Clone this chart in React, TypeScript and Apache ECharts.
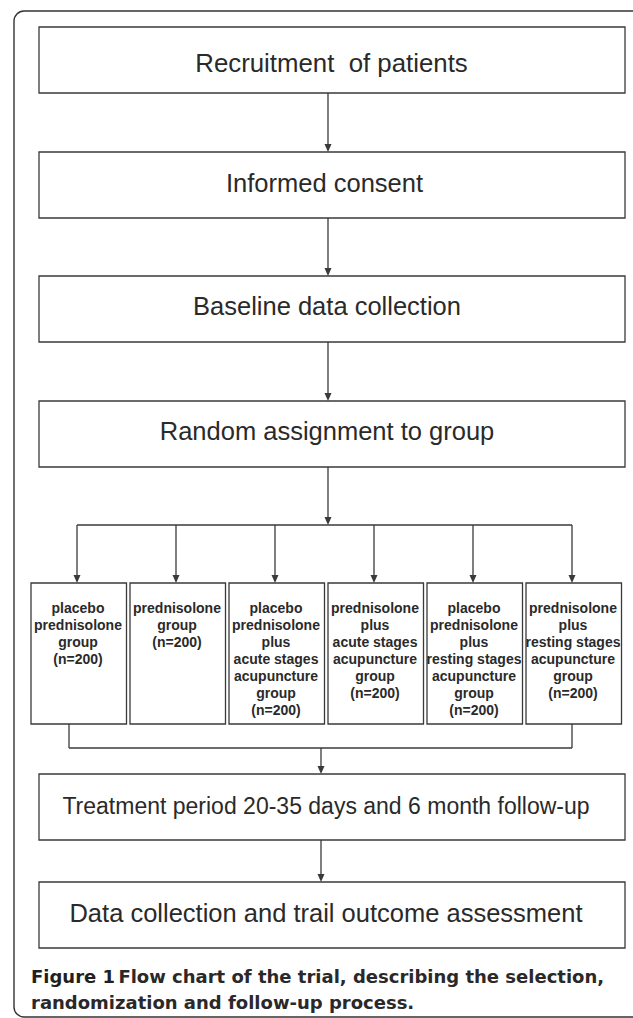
import React, { useEffect, useRef } from "react";
import * as echarts from "echarts";

// ---- content ----
const mainSteps = [
  "Recruitment  of patients",
  "Informed consent",
  "Baseline data collection",
  "Random assignment to group",
];
const groupLabels = [
  ["placebo", "prednisolone", "group", "(n=200)"],
  ["prednisolone", "group", "(n=200)"],
  ["placebo", "prednisolone", "plus", "acute stages", "acupuncture", "group", "(n=200)"],
  ["prednisolone", "plus", "acute stages", "acupuncture", "group", "(n=200)"],
  ["placebo", "prednisolone", "plus", "resting stages", "acupuncture", "group", "(n=200)"],
  ["prednisolone", "plus", "resting stages", "acupuncture", "group", "(n=200)"],
];
const finalSteps = [
  "Treatment period 20-35 days and 6 month follow-up",
  "Data collection and trail outcome assessment",
];
const captionBold = "Figure 1";
const captionLine1 = "Flow chart of the trial, describing the selection,";
const captionLine2 = "randomization and follow-up process.";

// ---- layout ----
const LINE = "#3a3a3a";
const TEXT = "#2a2a2a";
const BOX_L = 39;
const BOX_R = 625;
const MAIN_TOPS = [27, 152, 276, 401];
const MAIN_TEXT_Y = [63, 183, 306, 431];
const MAIN_TEXT_X = [331.5, 324.5, 327, 327];
const MAIN_FONT = [25.8, 25.5, 25.5, 25.5];
const MAIN_H = 66;
const ARROW_X = 328;
const BRANCH_Y = 525;
const G_TOP = 583;
const G_BOTTOM = 724;
const G_LEFT0 = 31;
const G_PITCH = 99;
const G_W = 95.5;
const MERGE_Y = 748;
const MERGE_X = 321;
const FINAL_TOPS = [774, 882];
const FINAL_H = 66;
const FINAL_TEXT_Y = [806, 913];
const FINAL_FONT = [23, 25.5];
const CAPTION_FONT = 18;

function line(x1: number, y1: number, x2: number, y2: number) {
  return {
    type: "line",
    shape: { x1, y1, x2, y2 },
    style: { stroke: LINE, lineWidth: 1.3 },
    silent: true,
  };
}
function arrow(x: number, y1: number, y2: number) {
  return [
    line(x, y1, x, y2 - 6),
    {
      type: "polygon",
      shape: { points: [[x - 3.5, y2 - 8], [x + 3.5, y2 - 8], [x, y2]] },
      style: { fill: LINE },
      silent: true,
    },
  ];
}
function box(x: number, y: number, w: number, h: number) {
  return {
    type: "rect",
    shape: { x, y, width: w, height: h },
    style: { fill: "#fff", stroke: LINE, lineWidth: 1.3 },
    silent: true,
  };
}

export default function App() {
  const ref = useRef<HTMLDivElement>(null);
  useEffect(() => {
    if (!ref.current) return;
    const chart = echarts.init(ref.current, undefined, { renderer: "svg" });
    const els: any[] = [];
    // outer frame
    els.push({
      type: "rect",
      shape: { x: 14, y: 11, width: 630, height: 1006, r: 10 },
      style: { fill: "none", stroke: "#333", lineWidth: 1.4 },
      silent: true,
    });
    // main steps
    mainSteps.forEach((label, i) => {
      els.push(box(BOX_L, MAIN_TOPS[i], BOX_R - BOX_L, MAIN_H));
      els.push({
        type: "text",
        x: MAIN_TEXT_X[i],
        y: MAIN_TEXT_Y[i],
        style: {
          text: label,
          fill: TEXT,
          font: `${MAIN_FONT[i]}px 'Liberation Sans', Arial, sans-serif`,
          align: "center",
          verticalAlign: "middle",
        },
        silent: true,
      });
      if (i < mainSteps.length - 1) {
        els.push(...arrow(ARROW_X, MAIN_TOPS[i] + MAIN_H, MAIN_TOPS[i + 1]));
      }
    });
    // branch
    els.push(...arrow(ARROW_X, MAIN_TOPS[3] + MAIN_H, BRANCH_Y));
    const gx = groupLabels.map((_, i) => G_LEFT0 + i * G_PITCH + 46);
    els.push(line(gx[0], BRANCH_Y, gx[gx.length - 1], BRANCH_Y));
    groupLabels.forEach((lines, i) => {
      const left = G_LEFT0 + i * G_PITCH;
      els.push(...arrow(gx[i], BRANCH_Y, G_TOP));
      els.push(box(left, G_TOP, G_W, G_BOTTOM - G_TOP));
      els.push({
        type: "text",
        x: left + 47,
        y: 599,
        style: {
          text: lines.join("\n"),
          fill: TEXT,
          font: "bold 14px 'Liberation Sans', Arial, sans-serif",
          lineHeight: 17,
          align: "center",
          verticalAlign: "top",
        },
        silent: true,
      });
    });
    // merge
    const mL = G_LEFT0 + 38;
    const mR = G_LEFT0 + 5 * G_PITCH + 46;
    els.push(line(mL, G_BOTTOM, mL, MERGE_Y));
    els.push(line(mR, G_BOTTOM, mR, MERGE_Y));
    els.push(line(mL, MERGE_Y, mR, MERGE_Y));
    els.push(...arrow(MERGE_X, MERGE_Y, FINAL_TOPS[0]));
    finalSteps.forEach((label, i) => {
      els.push(box(BOX_L, FINAL_TOPS[i], BOX_R - BOX_L, FINAL_H));
      els.push({
        type: "text",
        x: 326,
        y: FINAL_TEXT_Y[i],
        style: {
          text: label,
          fill: TEXT,
          font: `${FINAL_FONT[i]}px 'Liberation Sans', Arial, sans-serif`,
          align: "center",
          verticalAlign: "middle",
        },
        silent: true,
      });
      if (i < finalSteps.length - 1) {
        els.push(...arrow(MERGE_X, FINAL_TOPS[i] + FINAL_H, FINAL_TOPS[i + 1]));
      }
    });
    // caption
    els.push({
      type: "text",
      x: 31,
      y: 976,
      style: {
        text: `{a|${captionBold}} {b|${captionLine1}}`,
        verticalAlign: "middle",
        align: "left",
        rich: {
          a: { font: `bold ${CAPTION_FONT}px 'DejaVu Sans', sans-serif`, fill: "#231f20" },
          b: { font: `bold ${CAPTION_FONT}px 'DejaVu Sans', sans-serif`, fill: "#2b2829" },
        },
      },
      silent: true,
    });
    els.push({
      type: "text",
      x: 31,
      y: 1002,
      style: {
        text: captionLine2,
        verticalAlign: "middle",
        align: "left",
        font: `bold ${CAPTION_FONT}px 'DejaVu Sans', sans-serif`,
        fill: "#2b2829",
      },
      silent: true,
    });
    chart.setOption({ animation: false, graphic: { elements: els } });
    return () => chart.dispose();
  }, []);
  return (
    <div
      ref={ref}
      style={{ position: "fixed", left: 0, top: 0, width: 633, height: 1018, background: "#fff" }}
    />
  );
}
